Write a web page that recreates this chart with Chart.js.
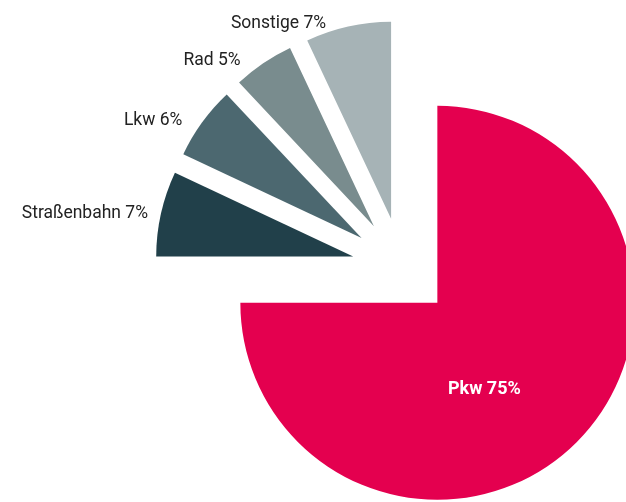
<!DOCTYPE html>
<html lang="de">
  <head>
    <meta charset="UTF-8" />
    <title>Verkehrsmittel</title>
    <script src="https://cdn.jsdelivr.net/npm/chart.js@4.4.0/dist/chart.umd.min.js"></script>
    <style>
      html, body { margin: 0; padding: 0; background: #fff; overflow: hidden; }
      #wrap { position: relative; width: 626px; height: 502px; }
    </style>
  </head>
  <body>
    <div id="wrap"><canvas id="pie"></canvas></div>

    <script>
      // Daten
      const categories = ["Pkw", "Straßenbahn", "Lkw", "Rad", "Sonstige"];
      const shares = [75, 7, 6, 5, 7];
      const sliceColors = ["#e4004f", "#21404a", "#4c6870", "#798c8e", "#a6b3b6"];

      const RADIUS = 197;
      const EXPLODE = 200; // chart.js moves arc by offset / 4

      // chart.js grows the radius and trims the angle of offset arcs,
      // undo that so every slice keeps the same radius and exact angles
      const keepShape = {
        id: "keepShape",
        afterDatasetUpdate(chart, args) {
          args.meta.data.forEach((arc) => {
            const off = (arc.options.offset || 0) / 4;
            const fix = 1 - Math.sin(Math.min(Math.PI, arc.circumference));
            const ro = off * fix;
            arc.outerRadius = RADIUS - ro;
            const trim = ro / Math.PI / RADIUS / 2;
            arc.startAngle -= trim;
            arc.endAngle += trim;
          });
        },
      };

      const sliceLabels = {
        id: "sliceLabels",
        afterDatasetsDraw(chart) {
          const ctx = chart.ctx;
          const arcs = chart.getDatasetMeta(0).data;
          ctx.save();
          arcs.forEach((arc, i) => {
            const off = (arc.options.offset || 0) / 4;
            const mid = (arc.startAngle + arc.endAngle) / 2;
            const cx = arc.x + Math.cos(mid) * off;
            const cy = arc.y + Math.sin(mid) * off;
            const text = categories[i] + " " + shares[i] + "%";
            if (shares[i] > 50) {
              const a = arc.startAngle + 0.56 * (arc.endAngle - arc.startAngle);
              ctx.font = "bold 18px Roboto";
              ctx.fillStyle = "#ffffff";
              ctx.textAlign = "center";
              ctx.textBaseline = "middle";
              ctx.fillText(text, cx + Math.cos(a) * RADIUS * 0.5, cy + Math.sin(a) * RADIUS * 0.5);
            } else {
              const s = Math.abs(Math.sin(mid));
              const x = cx + Math.cos(mid) * (RADIUS + 12) - 24 * s + 4;
              const y = cy + Math.sin(mid) * (RADIUS + 12) + 5 + 8 * s;
              ctx.font = "17.5px Roboto";
              ctx.fillStyle = "#222222";
              ctx.textAlign = "right";
              ctx.textBaseline = "alphabetic";
              ctx.fillText(text, x, y);
            }
          });
          ctx.restore();
        },
      };

      new Chart(document.getElementById("pie"), {
        type: "pie",
        data: {
          labels: categories,
          datasets: [
            {
              data: shares,
              backgroundColor: sliceColors,
              borderWidth: 0,
              offset: EXPLODE,
              hoverOffset: 0,
              clip: false,
            },
          ],
        },
        options: {
          responsive: true,
          maintainAspectRatio: false,
          animation: false,
          radius: RADIUS,
          layout: { padding: { left: 178, top: 33, right: 0, bottom: 0 } },
          plugins: {
            legend: { display: false },
            tooltip: { enabled: false },
          },
          events: [],
        },
        plugins: [keepShape, sliceLabels],
      });
    </script>
  </body>
</html>
